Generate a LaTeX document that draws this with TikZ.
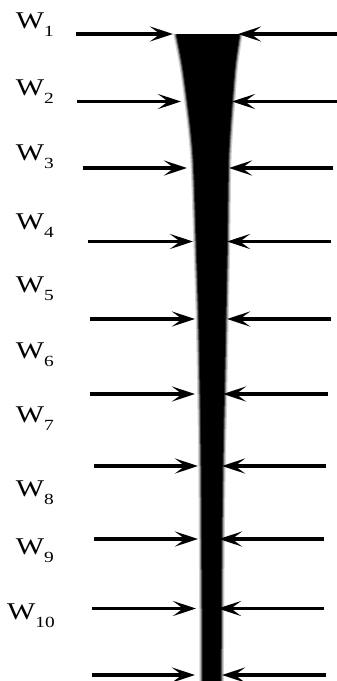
\documentclass[tikz,border=0pt]{standalone}
\usepackage{graphicx}
\usepackage{fontspec}
\setmainfont{Liberation Serif}
\usetikzlibrary{arrows.meta}
\newcommand\wlab[1]{\scalebox{1.25}[1]{W\raisebox{-8pt}{\fontsize{15.5}{16}\selectfont #1}}}
\tikzset{
  arr/.style={line width=3.2pt, -{Stealth[length=23pt,width=15pt,inset=10pt]}},
  lab/.style={anchor=base east, inner sep=0pt, font=\fontsize{24}{26}\selectfont},
  colshape/.style={insert path={
    plot[smooth, tension=0.6] coordinates {(176.5,34) (182.5,65) (187.5,101) (191.5,135) (194,168) (196.5,241) (199,319) (200.5,394) (201.5,466) (202,539) (202.5,609) (202.5,690)}
    -- plot[smooth, tension=0.6] coordinates {(220.5,690) (221,609) (221.5,539) (222.5,466) (224,394) (225.5,319) (227,241) (228,168) (229.5,135) (232,101) (235,65) (239.5,34)}
    -- cycle}}
}
\begin{document}
\begin{tikzpicture}[x=1pt,y=-1pt]
\useasboundingbox (0,0) rectangle (337,681);
% tapering column
\begin{scope}
  \clip (0,34) rectangle (337,681);
  \draw[line width=6.5pt, black!18, line join=round, colshape];
  \draw[line width=4pt, black!45, line join=round, colshape];
  \draw[line width=2pt, black!80, line join=round, colshape];
  \fill[black, colshape];
\end{scope}
% arrows
\foreach \i/\y/\la/\lb/\ra/\rb in {
  1/34/76/173/337/238,
  2/101.5/77/181/337/232,
  3/168/83/187/333/229,
  4/241.5/88/193/331/227,
  5/319/90/195/331/227,
  6/394/90/195/328/223,
  7/466/94/198/326/222,
  8/539/94/198/324/219,
  9/608.5/92/196/324/218,
  10/675/92/195/326/222}{
  \coordinate (ls\i) at (\la,\y);
  \coordinate (lt\i) at (\lb,\y);
  \coordinate (rs\i) at (\ra,\y);
  \coordinate (rt\i) at (\rb,\y);
  \draw[arr] (ls\i) -- (lt\i);
  \draw[arr] (rs\i) -- (rt\i);
}
% labels
\node[lab] (w1) at (54,28) {\wlab{1}};
\node[lab] (w2) at (54,95) {\wlab{2}};
\node[lab] (w3) at (54,160) {\wlab{3}};
\node[lab] (w4) at (54,229) {\wlab{4}};
\node[lab] (w5) at (54,292) {\wlab{5}};
\node[lab] (w6) at (54,358) {\wlab{6}};
\node[lab] (w7) at (54,422) {\wlab{7}};
\node[lab] (w8) at (54,496) {\wlab{8}};
\node[lab] (w9) at (54,554) {\wlab{9}};
\node[lab] (w10) at (55,619) {\wlab{10}};
\end{tikzpicture}
\end{document}
